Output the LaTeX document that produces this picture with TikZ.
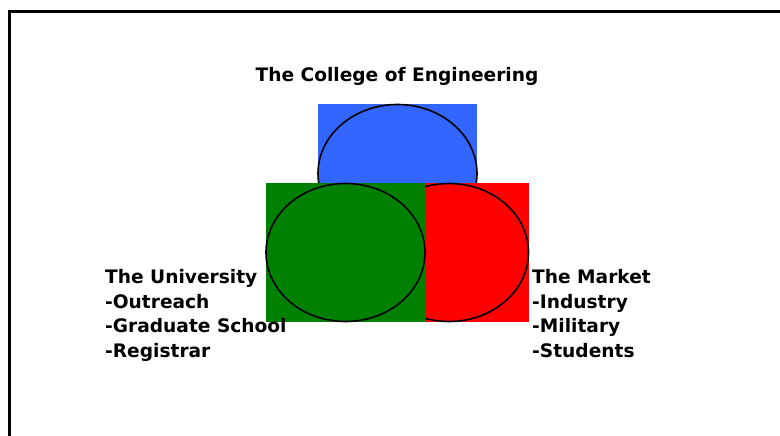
\documentclass[tikz,border=0pt]{standalone}
\usepackage{fontspec}
\setmainfont{DejaVu Sans}
\usepackage{tikz}

\definecolor{engblue}{RGB}{51,102,255}
\definecolor{unigreen}{RGB}{0,128,0}
\definecolor{marketred}{RGB}{255,0,0}

\begin{document}
\begin{tikzpicture}[x=1bp,y=-1bp,
  sector/.style={rectangle,minimum width=159bp,minimum height=139bp,inner sep=0pt},
  ring/.style={draw=black,line width=1.6bp},
  caption/.style={inner sep=0pt,anchor=base west,font=\bfseries\fontsize{18.6bp}{24.5bp}\selectfont}]
  \useasboundingbox (0,0) rectangle (780,436);
  % frame, only the top and left edges are on the page
  \draw[line width=3bp] (9.5,436) -- (9.5,11.5) -- (780,11.5);

  % the three circles, each on its own square of colour
  \draw (397.5,173.5)node[sector,fill=engblue](college){};
  \draw[ring] (college.center) ellipse [x radius=79.5bp, y radius=69bp];
  \draw (449,252.5)node[sector,fill=marketred](market){};
  \draw[ring] (market.center) ellipse [x radius=79.5bp, y radius=69bp];
  \draw (345.5,252.5)node[sector,fill=unigreen](university){};
  \draw[ring] (university.center) ellipse [x radius=79.5bp, y radius=69bp];

  % labels
  \draw (397,82)node[caption,anchor=base](collegetitle){The College of Engineering};
  \draw (105,284)node[caption](unititle){The University};
  \draw (105,308.5)node[caption](outreach){-Outreach};
  \draw (105,333)node[caption](gradschool){-Graduate School};
  \draw (105,357.5)node[caption](registrar){-Registrar};
  \draw (532,284)node[caption](markettitle){The Market};
  \draw (532,308.5)node[caption](industry){-Industry};
  \draw (532,333)node[caption](military){-Military};
  \draw (532,357.5)node[caption](students){-Students};
\end{tikzpicture}
\end{document}
